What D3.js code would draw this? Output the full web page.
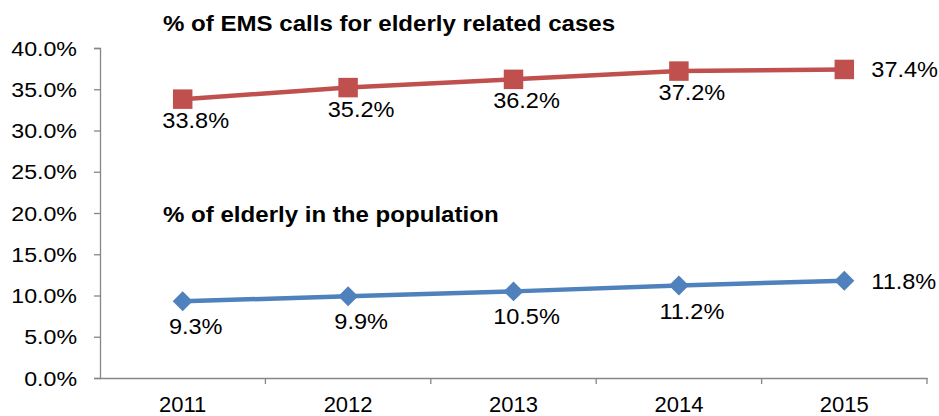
<!DOCTYPE html>
<html><head><meta charset="utf-8">
<script src="https://cdn.jsdelivr.net/npm/d3@7"></script>
<style>body{margin:0;background:#fff}svg{display:block}text{font-family:"Liberation Sans",Arial,sans-serif;fill:#000}</style>
</head><body><svg id="c" width="939" height="416"></svg>
<script>
const years = ["2011","2012","2013","2014","2015"];
const emsCalls = [33.8, 35.2, 36.2, 37.2, 37.4];
const elderly = [9.3, 9.9, 10.5, 11.2, 11.8];
const yTicks = [0,5,10,15,20,25,30,35,40];
const titleEms = "% of EMS calls for elderly related cases";
const titleElderly = "% of elderly in the population";

const svg = d3.select("#c");
const x = d3.scaleBand().domain(years).range([100, 927]);
const y = d3.scaleLinear().domain([0, 40]).range([378, 48]);
const axisColor = "#868686";

// y axis
const ya = svg.append("g").attr("transform","translate(100,0)")
  .call(d3.axisLeft(y).tickValues(yTicks).tickSize(6).tickPadding(0).tickFormat(d=>d.toFixed(1)+"%"));
ya.select(".domain").attr("stroke",axisColor).attr("stroke-width",1.3);
ya.selectAll(".tick line").attr("stroke",axisColor).attr("stroke-width",1.3);
ya.selectAll(".tick text").attr("x",null).attr("dy",null).attr("text-anchor","end")
  .attr("font-size",20).attr("transform","translate(-23,7) scale(1.16,1)");

// x axis
const xa = svg.append("g").attr("transform","translate(0,378)")
  .call(d3.axisBottom(x).tickSize(0).tickSizeOuter(0).tickPadding(0));
xa.select(".domain").attr("stroke",axisColor).attr("stroke-width",1.3);
xa.selectAll(".tick text").attr("y",null).attr("dy",null).attr("font-size",22)
  .attr("transform","translate(0,34)");
const bounds = years.map(d=>x(d)).concat([x(years[4])+x.bandwidth()]);
svg.append("g").selectAll("line").data(bounds.slice(1)).join("line")
  .attr("x1",d=>d).attr("x2",d=>d).attr("y1",378).attr("y2",384)
  .attr("stroke",axisColor).attr("stroke-width",1.3);

const cx = d => x(d) + x.bandwidth()/2;
function series(vals, color, sym, size, below) {
  const pts = years.map((d,i)=>({yr:d, v:vals[i]}));
  svg.append("path").datum(pts).attr("fill","none").attr("stroke",color).attr("stroke-width",4.5)
    .attr("d", d3.line().x(p=>cx(p.yr)).y(p=>y(p.v)));
  svg.append("g").selectAll("path").data(pts).join("path")
    .attr("d", d3.symbol().type(d3.symbolSquare).size(size))
    .attr("fill",color)
    .attr("transform",p=>"translate("+cx(p.yr)+","+y(p.v)+")"+(sym==="diamond"?" rotate(45)":""));
  svg.append("g").selectAll("text").data(pts).join("text")
    .attr("font-size",22)
    .attr("text-anchor",(p,i)=>i===4?"start":"middle")
    .attr("transform",(p,i)=> i===4
      ? "translate("+(cx(p.yr)+27)+","+(y(p.v)+8)+") scale(1.07,1)"
      : "translate("+(cx(p.yr)+13)+","+(y(p.v)+below)+") scale(1.07,1)")
    .text(p=>p.v.toFixed(1)+"%");
}
series(emsCalls, "#C0504D", "square", 380, 29);
series(elderly, "#4F81BD", "diamond", 200, 33);

svg.append("text").attr("font-weight","bold").attr("font-size",21.5)
  .attr("transform","translate(163,31) scale(1.12,1)").text(titleEms);
svg.append("text").attr("font-weight","bold").attr("font-size",21.5)
  .attr("transform","translate(163,222) scale(1.12,1)").text(titleElderly);
</script></body></html>
